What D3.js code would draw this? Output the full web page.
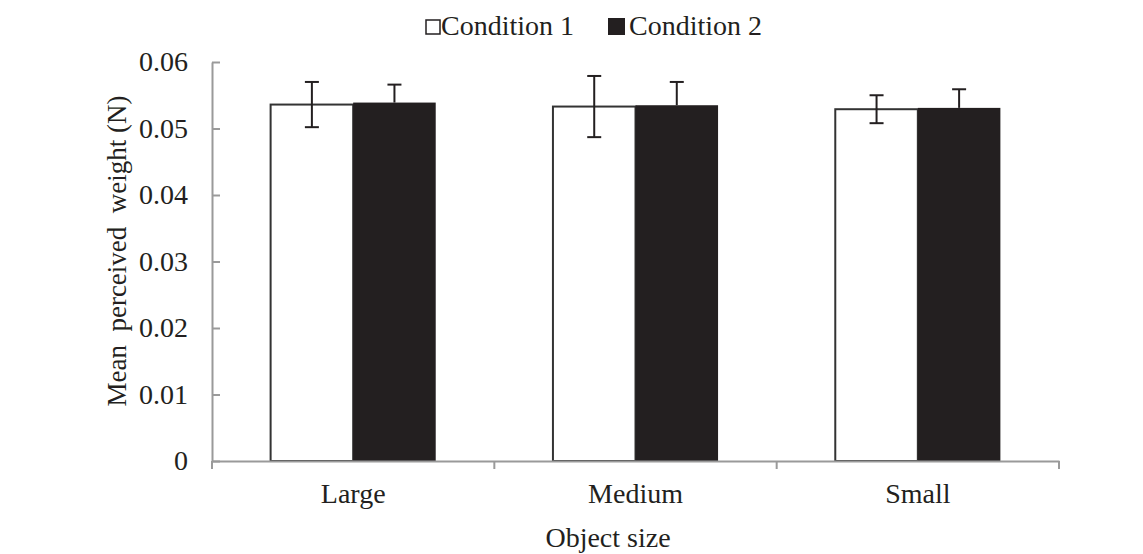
<!DOCTYPE html>
<html>
<head>
<meta charset="utf-8">
<script src="https://cdn.jsdelivr.net/npm/d3@7"></script>
<style>
  body { margin: 0; background: #fff; }
  svg text { font-family: "Liberation Serif", "Times New Roman", serif; fill: #231f20; }
</style>
</head>
<body>
<svg id="chart"></svg>
<script>
// data
const categories = ['Large', 'Medium', 'Small'];
const seriesNames = ['Condition 1', 'Condition 2'];
const cond1 = [0.0536, 0.0533, 0.0529];
const cond2 = [0.0539, 0.0535, 0.0531];
const err1 = [0.0034, 0.0046, 0.0021];
const err2 = [0.0027, 0.0035, 0.0028];
const yTicks = [0, 0.01, 0.02, 0.03, 0.04, 0.05, 0.06];

const w = 1143, h = 554;
const plotLeft = 212, plotRight = 1059, plotTop = 62, plotBottom = 461;
const ink = '#231f20';
const axisGray = '#9a9a9a';

const svg = d3.select('#chart').attr('width', w).attr('height', h);

const x = d3.scaleBand().domain(categories).range([plotLeft, plotRight]);
const xInner = d3.scaleBand().domain(seriesNames)
  .range([0, x.bandwidth()]).paddingOuter(0.71).paddingInner(0);
const y = d3.scaleLinear().domain([0, 0.06]).range([plotBottom, plotTop]);

// rows for drawing
const rows = [];
categories.forEach((c, i) => {
  rows.push({ cat: c, s: seriesNames[0], v: cond1[i], e: err1[i] });
  rows.push({ cat: c, s: seriesNames[1], v: cond2[i], e: err2[i] });
});

// bars
svg.append('g').selectAll('rect')
  .data(rows)
  .enter()
  .append('rect')
  .attr('x', d => x(d.cat) + xInner(d.s))
  .attr('y', d => y(d.v))
  .attr('width', xInner.bandwidth())
  .attr('height', d => y(0) - y(d.v))
  .attr('fill', d => d.s === seriesNames[0] ? '#fff' : ink)
  .attr('stroke', d => d.s === seriesNames[0] ? '#333' : 'none')
  .attr('stroke-width', 2);

// error bars (lower half of the dark bars is hidden by the bar)
const eb = svg.append('g').attr('stroke', ink).attr('stroke-width', 2);
rows.forEach(d => {
  const cx = x(d.cat) + xInner(d.s) + xInner.bandwidth() / 2;
  const lo = d.s === seriesNames[0] ? d.v - d.e : d.v;
  eb.append('line').attr('x1', cx).attr('x2', cx)
    .attr('y1', y(d.v + d.e)).attr('y2', y(lo));
  eb.append('line').attr('x1', cx - 7).attr('x2', cx + 7)
    .attr('y1', y(d.v + d.e)).attr('y2', y(d.v + d.e));
  if (d.s === seriesNames[0]) {
    eb.append('line').attr('x1', cx - 7).attr('x2', cx + 7)
      .attr('y1', y(lo)).attr('y2', y(lo));
  }
});

// y axis, ticks pointing inside
const yAxis = d3.axisLeft(y)
  .tickValues(yTicks)
  .tickFormat(d => d === 0 ? '0' : d3.format('.2f')(d))
  .tickSizeInner(-8)
  .tickSizeOuter(0)
  .tickPadding(24);

const gy = svg.append('g')
  .attr('transform', 'translate(' + plotLeft + ',0)')
  .call(yAxis);
gy.select('.domain').attr('stroke', axisGray).attr('stroke-width', 2);
gy.selectAll('.tick line').attr('stroke', axisGray).attr('stroke-width', 2);
gy.selectAll('.tick text').style('font-size', '28px').attr('fill', ink)
  .attr('font-family', null);

// x axis
const xAxis = d3.axisBottom(x).tickSize(0).tickPadding(0);
const gx = svg.append('g')
  .attr('transform', 'translate(0,' + plotBottom + ')')
  .call(xAxis);
gx.select('.domain').attr('stroke', axisGray).attr('stroke-width', 2);
gx.selectAll('.tick text')
  .attr('y', 42).attr('dy', 0)
  .style('font-size', '28px').attr('fill', ink).attr('font-family', null);

// category boundary ticks
const bounds = categories.map(c => x(c)).concat([x.range()[1]]);
gx.append('g').selectAll('line')
  .data(bounds)
  .enter()
  .append('line')
  .attr('x1', d => d).attr('x2', d => d)
  .attr('y1', 0).attr('y2', 8)
  .attr('stroke', axisGray).attr('stroke-width', 2);

// axis titles
svg.append('text')
  .attr('x', 608).attr('y', 547)
  .attr('text-anchor', 'middle')
  .style('font-size', '28px')
  .text('Object size');

svg.append('text')
  .attr('transform', 'translate(126,251) rotate(-90)')
  .attr('text-anchor', 'middle')
  .style('font-size', '27px')
  .style('white-space', 'pre')
  .attr('xml:space', 'preserve')
  .text('Mean  perceived  weight (N)');

// legend
const legendPos = [{ sx: 426, size: 14, tx: 441 }, { sx: 608, size: 17, tx: 629 }];
const lg = svg.append('g');
seriesNames.forEach((s, i) => {
  const p = legendPos[i];
  lg.append('rect')
    .attr('x', p.sx).attr('y', 35 - p.size - (i === 0 ? 1 : 0))
    .attr('width', p.size).attr('height', p.size)
    .attr('fill', i === 0 ? '#fff' : ink)
    .attr('stroke', i === 0 ? ink : 'none')
    .attr('stroke-width', 1.5);
  lg.append('text')
    .attr('x', p.tx).attr('y', 35)
    .style('font-size', '28px')
    .text(s);
});
</script>
</body>
</html>
